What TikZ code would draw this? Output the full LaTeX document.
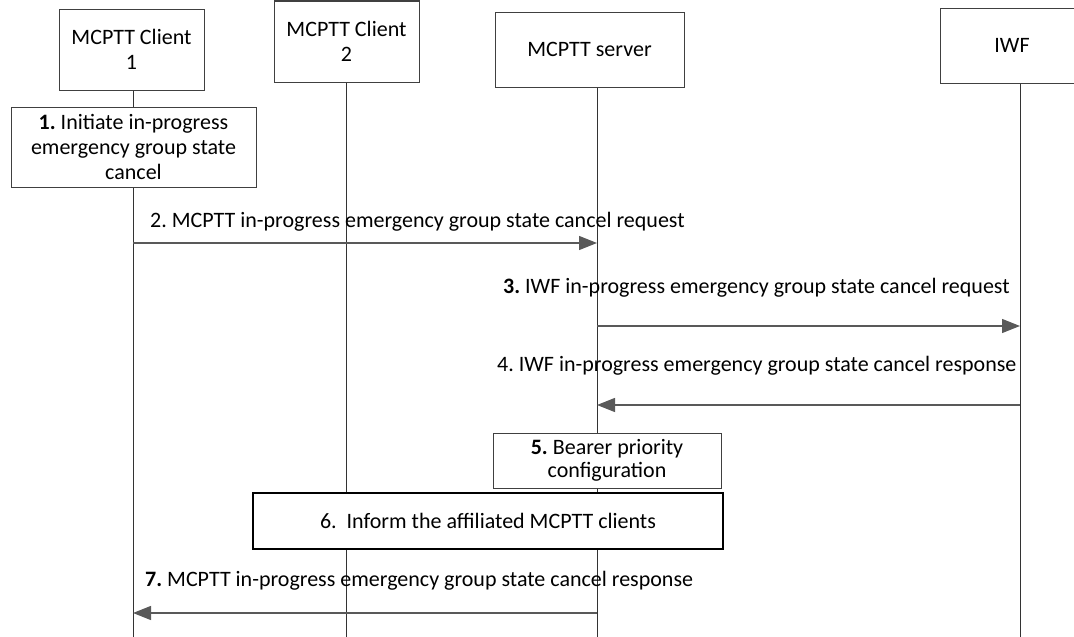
\documentclass[tikz,border=0pt]{standalone}
\usepackage{fontspec}
\setmainfont{Carlito}
\usetikzlibrary{arrows.meta}
\frenchspacing
\tikzset{entity/.style={draw=black!75,line width=1pt,fill=white,align=center,inner sep=0pt},
         lifeline/.style={line width=.9pt,black!80},
         msg/.style={-{Triangle[length=18pt,width=14pt]},line width=1.2pt,black!65},
         msglabel/.style={anchor=west,inner sep=0pt},
         bigaction/.style={entity,draw=black,line width=2pt}}

\begin{document}
\begin{tikzpicture}[x=1pt,y=-1pt,font=\fontsize{22}{25}\selectfont]
  \useasboundingbox (0,0) rectangle (1074,637);
  % entities
  \node[entity,minimum width=145pt,minimum height=81pt] (cl1) at (131.5,49.5) {MCPTT Client\\1};
  \node[entity,minimum width=145pt,minimum height=81pt] (cl2) at (346.5,41.5) {MCPTT Client\\2};
  \node[entity,minimum width=189pt,minimum height=75pt] (srv) at (589.5,49.5) {MCPTT server};
  \node[entity,minimum width=144pt,minimum height=75pt] (iwf) at (1012,45.5) {IWF};
  % lifelines
  \coordinate (cl1 end) at (133,637);
  \coordinate (cl2 end) at (346,637);
  \coordinate (srv end) at (597,637);
  \coordinate (iwf end) at (1020,637);
  \foreach \ent in {cl1,cl2,srv,iwf}
    \draw[lifeline] (\ent.south -| \ent\space end) -- (\ent\space end);
  % steps
  \node[entity,minimum width=245pt,minimum height=80pt] (step1) at (133.5,147)
    {\textbf{1.} Initiate in-progress\\emergency group state\\cancel};
  \node[msglabel] (lbl2) at (150,222) {2. MCPTT in-progress emergency group state cancel request};
  \draw[msg] (cl1 end |- 0,243) -- (srv end |- 0,243);
  \node[msglabel] (lbl3) at (503,288) {\textbf{3.} IWF in-progress emergency group state cancel request};
  \draw[msg] (srv end |- 0,326) -- (iwf end |- 0,326);
  \node[msglabel] (lbl4) at (497,366) {4. IWF in-progress emergency group state cancel response};
  \draw[msg] (iwf end |- 0,405) -- (srv end |- 0,405);
  \node[entity,minimum width=228pt,minimum height=55pt,font=\fontsize{22}{23}\selectfont] (step5) at (607,460.5)
    {\textbf{5.} Bearer priority\\configuration};
  \node[bigaction,minimum width=470pt,minimum height=56pt] (step6) at (488,521)
    {6.~ Inform the affiliated MCPTT clients};
  \node[msglabel] (lbl7) at (145,581) {\textbf{7.} MCPTT in-progress emergency group state cancel response};
  \draw[msg] (srv end |- 0,613) -- (cl1 end |- 0,613);
\end{tikzpicture}
\end{document}
